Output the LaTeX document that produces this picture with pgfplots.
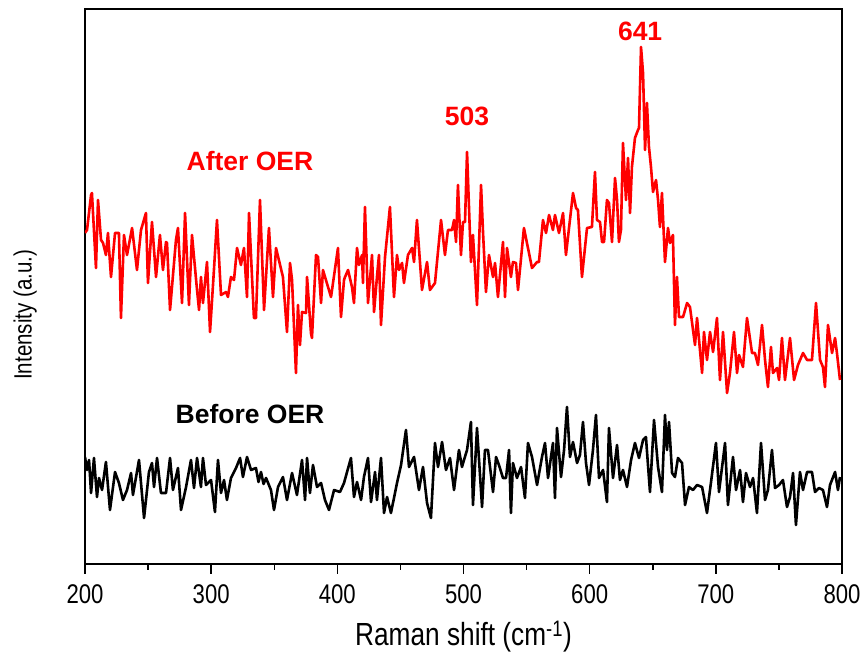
\documentclass[border=0pt]{standalone}
\usepackage{fontspec}
\setmainfont{Liberation Sans}
\newfontfamily\narrowfont[FakeStretch=0.82]{Liberation Sans}
\usepackage{pgfplots}
\pgfplotsset{compat=1.18}
\begin{document}
\begin{tikzpicture}
\begin{axis}[
  at={(0pt,0pt)}, anchor=south west,
  width=757pt, height=555pt, scale only axis,
  xmin=200, xmax=800, ymin=0, ymax=555,
  xtick={200,300,400,500,600,700,800},
  minor x tick num=1,
  ytick=\empty,
  xtick pos=bottom,
  tick align=outside,
  major tick length=10pt, minor tick length=6pt,
  every tick/.style={black, line width=1.5pt},
  axis line style={black, line width=2pt},
  /pgf/number format/assume math mode=true,
  /pgf/number format/1000 sep={},
  xticklabel style={font=\narrowfont\fontsize{27}{27}\selectfont, yshift=-7pt},
  xlabel={Raman shift (cm\textsuperscript{-1})},
  xlabel style={font=\narrowfont\fontsize{32}{32}\selectfont, at={(axis description cs:0.5,-0.13)}, anchor=center},
  ylabel={Intensity (a.u.)},
  ylabel style={font=\narrowfont\fontsize{25}{25}\selectfont, at={(axis description cs:-0.079,0.449)}, anchor=center},
  clip=true,
]
\addplot[red, line width=2.6pt, line join=round] coordinates {
(200.0,331)(201.6,334)(204.8,369)(205.5,371)(208.7,296)(210.3,364)(212.7,324)(214.3,321)(216.6,309)(218.2,331)
(220.6,287)(223.8,331)(226.9,331)(228.5,246)(230.9,329)(233.3,309)(237.3,336)(241.2,294)(244.4,334)(248.3,351)
(249.9,281)(253.1,342)(256.3,287)(259.4,329)(261.8,294)(264.2,322)(265.0,321)(267.4,254)(272.1,324)(273.7,336)
(276.9,261)(279.3,351)(282.4,259)(284.8,329)(288.8,274)(290.4,254)(291.9,287)(293.5,261)(296.7,302)(299.1,232)
(302.2,294)(304.6,344)(307.8,269)(311.8,272)(313.3,267)(315.7,287)(318.1,284)(320.5,316)(323.6,299)(326.0,316)
(328.4,267)(330.0,351)(333.9,246)(335.5,246)(338.7,364)(341.9,254)(345.8,336)(349.0,267)(351.4,316)(356.9,287)
(360.1,232)(362.5,301)(364.1,284)(367.2,191)(368.8,259)(370.4,219)(372.0,252)(375.2,251)(376.0,287)(379.1,231)
(379.9,226)(383.1,309)(384.7,307)(387.1,261)(388.6,294)(395.0,267)(400.5,316)(402.9,247)(405.3,284)(406.1,287)
(408.5,294)(411.6,277)(413.2,261)(415.6,316)(417.2,299)(419.6,309)(420.3,281)(421.9,357)(424.3,261)(427.5,309)
(429.1,252)(431.4,287)(433.0,309)(434.6,239)(437.8,307)(441.7,357)(444.9,267)(447.3,309)(448.9,294)(451.3,301)
(452.8,281)(456.0,309)(459.2,316)(460.8,302)(463.1,344)(467.1,274)(471.1,302)(473.4,274)(477.4,281)(482.2,344)
(485.3,309)(487.7,334)(490.9,334)(492.5,344)(494.1,322)(495.6,379)(498.0,309)(499.6,342)(501.2,342)(502.8,412)
(505.9,302)(507.5,329)(510.7,259)(513.9,379)(515.5,331)(517.8,272)(520.2,309)(523.4,287)(525.0,301)(527.3,267)
(531.3,322)(532.9,267)(534.5,316)(537.6,287)(539.2,302)(541.6,301)(543.2,274)(547.9,336)(554.3,296)(558.3,302)
(559.8,302)(563.0,344)(565.4,331)(567.8,349)(570.9,334)(572.5,349)(575.7,331)(578.9,351)(581.2,309)(586.8,371)
(589.2,356)(590.7,354)(593.9,287)(597.9,336)(601.8,337)(604.2,392)(605.8,344)(608.2,342)(609.8,322)(611.4,322)
(613.7,364)(615.3,361)(617.7,322)(620.1,386)(621.7,364)(623.2,322)(624.8,334)(626.4,421)(628.8,364)(630.4,406)
(632.0,351)(633.5,397)(635.9,426)(638.3,434)(639.1,436)(640.7,517)(642.3,491)(643.9,414)(645.4,461)(647.0,417)
(648.6,397)(650.2,372)(652.6,384)(654.2,364)(655.7,337)(657.3,371)(659.7,302)(662.1,336)(663.7,321)(666.0,329)
(667.6,239)(669.2,287)(670.8,247)(674.0,247)(677.2,261)(679.5,257)(683.5,219)(685.1,246)(689.1,191)(690.6,232)
(693.0,204)(695.4,232)(697.8,212)(700.9,246)(703.3,184)(705.7,232)(708.9,171)(711.2,191)(714.4,232)(716.8,191)
(718.4,209)(721.5,197)(724.7,246)(728.7,211)(731.0,211)(733.4,199)(736.6,239)(739.0,204)(741.3,177)(743.7,217)
(745.3,191)(748.5,196)(750.1,184)(752.4,226)(754.8,184)(758.8,226)(762.0,184)(765.1,199)(769.1,211)(772.3,204)
(776.2,204)(779.4,261)(782.6,204)(784.9,197)(786.5,177)(788.9,239)(792.1,211)(794.5,226)(796.0,211)(798.4,184)
};
\addplot[black, line width=2.6pt, line join=round] coordinates {
(200.0,107)(201.6,94)(203.2,104)(204.8,71)(207.1,106)(209.5,67)(211.1,86)(213.5,74)(216.6,102)(219.8,54)
(223.8,92)(226.9,81)(230.1,64)(233.3,74)(236.5,91)(238.0,69)(242.8,104)(246.8,46)(250.7,92)(253.1,101)
(254.7,77)(257.1,106)(260.2,71)(264.2,71)(267.4,106)(269.7,74)(273.7,96)(276.1,54)(280.1,77)(284.0,104)
(286.4,76)(288.8,106)(291.9,77)(293.5,106)(295.9,79)(299.9,84)(303.0,52)(305.4,104)(307.8,71)(310.2,84)
(312.5,64)(315.7,86)(319.7,96)(322.9,106)(325.2,87)(328.4,107)(331.6,94)(335.5,96)(337.5,82)(339.5,92)(341.5,80)(343.5,86)
(347.4,74)(349.8,54)(353.0,77)(356.9,87)(360.1,64)(364.1,91)(368.0,69)(372.0,104)(374.4,64)(376.0,106)
(378.3,71)(380.7,99)(383.9,77)(387.1,81)(390.2,64)(393.4,54)(397.4,74)(402.1,72)(405.3,81)(407.7,92)
(410.8,106)(413.2,67)(415.6,82)(418.8,64)(421.1,87)(424.3,106)(426.7,62)(429.9,92)(431.4,64)(434.6,106)
(437.0,51)(439.4,67)(442.5,51)(447.3,81)(450.5,99)(454.4,134)(456.8,97)(460.8,107)(464.7,74)(467.9,97)
(471.1,61)(474.2,46)(477.4,121)(479.8,97)(483.0,122)(486.1,94)(489.3,106)(492.5,74)(496.4,114)(498.8,97)
(500.4,104)(502.8,114)(505.9,142)(507.5,59)(510.7,136)(514.7,57)(517.0,114)(519.4,114)(523.4,72)(525.8,107)
(528.1,99)(531.3,86)(533.7,86)(536.1,114)(537.6,51)(539.2,101)(542.4,86)(545.6,97)(548.7,66)(551.1,121)
(554.3,107)(558.3,79)(562.2,107)(564.6,121)(567.0,86)(570.9,121)(572.5,66)(574.1,136)(577.3,87)(579.7,114)
(582.0,157)(584.4,107)(586.8,122)(590.0,101)(592.3,109)(594.7,142)(597.1,101)(599.5,79)(602.6,114)(605.0,149)
(607.4,86)(610.6,94)(613.7,62)(615.3,136)(618.5,86)(621.7,119)(624.0,84)(626.4,94)(629.6,77)(632.8,104)
(635.9,121)(639.1,106)(642.3,124)(644.6,127)(647.8,72)(651.0,144)(654.2,97)(657.3,72)(659.7,149)(661.3,114)
(662.9,142)(665.3,91)(667.6,87)(670.0,106)(673.2,101)(675.6,59)(678.7,77)(681.9,74)(685.1,79)(689.1,77)
(693.0,51)(696.2,82)(700.1,121)(702.5,72)(707.3,121)(709.6,59)(713.6,107)(716.0,74)(719.2,94)(721.5,62)
(723.9,91)(727.1,77)(729.5,86)(732.6,51)(735.8,121)(739.0,64)(741.3,74)(744.5,114)(746.9,76)(750.1,79)
(753.2,84)(756.4,57)(758.8,67)(761.2,91)(763.5,39)(766.7,92)(769.1,74)(772.3,92)(776.2,92)(778.6,72)
(781.8,76)(784.9,74)(788.1,57)(790.5,79)(794.5,92)(796.8,74)(798.4,87)
};
\node[font=\bfseries\fontsize{26.5}{30}\selectfont, text=red] at (axis cs:330.8,403) {After OER};
\node[font=\bfseries\fontsize{26.5}{30}\selectfont, text=red] at (axis cs:502.8,448) {503};
\node[font=\bfseries\fontsize{26.5}{30}\selectfont, text=red] at (axis cs:640.0,533) {641};
\node[font=\bfseries\fontsize{26.5}{30}\selectfont, text=black] at (axis cs:330.8,150) {Before OER};
\end{axis}
\pgfresetboundingbox
\path[use as bounding box] (-85pt,-96pt) rectangle (779pt,564pt);
\end{tikzpicture}
\end{document}
